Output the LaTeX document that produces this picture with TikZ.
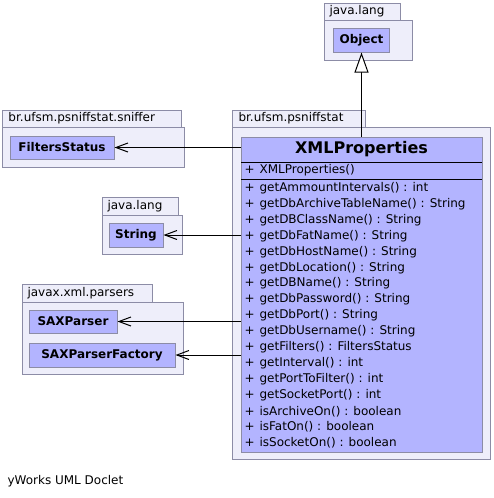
\documentclass[tikz,border=0pt]{standalone}
\usepackage{fontspec}
\setmainfont{DejaVu Sans}
\usetikzlibrary{arrows.meta,positioning}
\definecolor{pkgfill}{RGB}{238,238,250}
\definecolor{clsfill}{RGB}{179,180,255}
\definecolor{umlline}{RGB}{140,140,166}
\newcommand{\umlfont}{\fontsize{12}{14}\selectfont}

\begin{document}
\begin{tikzpicture}[x=1pt,y=-1pt,line width=1pt,
  pkg/.style={draw=umlline,fill=pkgfill},
  pkgname/.style={anchor=west,inner sep=0pt,font=\umlfont},
  cls/.style={draw=umlline,fill=clsfill,inner sep=0pt,font=\bfseries\umlfont},
  meth/.style={anchor=west,inner sep=0pt,font=\umlfont},
  dep/.style={-{Straight Barb[length=12pt,width=9pt]}},
  gen/.style={-{Triangle[open,length=20pt,width=14pt,fill=white]}}]
  \useasboundingbox (0,0) rectangle (493,498);
  % pacotes: aba + corpo
  \draw[pkg] (324,3) rectangle (400,20);
  \draw[pkg] (324,20) rectangle (412,60);
  \node[pkgname] (jl1) at (329,11.5) {java.lang};
  \draw[pkg] (2,110) rectangle (181,127);
  \draw[pkg] (2,127) rectangle (184,167);
  \node[pkgname] (sniff) at (8,118.5) {br.ufsm.psniffstat.sniffer};
  \draw[pkg] (232,110) rectangle (365,127);
  \draw[pkg] (232,127) rectangle (490,459);
  \node[pkgname] (psniff) at (238,118.5) {br.ufsm.psniffstat};
  \draw[pkg] (102,197) rectangle (178,215);
  \draw[pkg] (102,215) rectangle (182,254);
  \node[pkgname] (jl2) at (107,206) {java.lang};
  \draw[pkg] (22,284) rectangle (152,302);
  \draw[pkg] (22,302) rectangle (183,374);
  \node[pkgname] (parsers) at (27,293) {javax.xml.parsers};
  % classes
  \node[cls,minimum width=56,minimum height=24] (obj) at (361.5,40) {Object};
  \node[cls,minimum width=104,minimum height=23] (fs) at (62,147.5) {FiltersStatus};
  \node[cls,minimum width=54,minimum height=24] (str) at (136,235) {String};
  \node[cls,minimum width=88,minimum height=23] (sax) at (73,321.5) {SAXParser};
  \node[cls,minimum width=146,minimum height=24] (saxf) at (102,355) {SAXParserFactory};
  % XMLProperties
  \node[draw=umlline,fill=clsfill,minimum width=241,minimum height=315] (xml) at (361.5,294.5) {};
  \node[inner sep=0pt,font=\bfseries\fontsize{16}{19}\selectfont] (xmlname) at (361.5,149.5) {XMLProperties};
  \draw (241,162) -- (482,162);
  \draw (241,179) -- (482,179);
  \node[meth] (ctor) at (244,170.5) {+\kern5pt XMLProperties()};
  \foreach \m [count=\i] in {getAmmountIntervals() : int,getDbArchiveTableName() : String,
    getDBClassName() : String,getDbFatName() : String,getDbHostName() : String,
    getDbLocation() : String,getDBName() : String,getDbPassword() : String,
    getDbPort() : String,getDbUsername() : String,getFilters() : FiltersStatus,
    getInterval() : int,getPortToFilter() : int,getSocketPort() : int,
    isArchiveOn() : boolean,isFatOn() : boolean,isSocketOn() : boolean}
    \node[meth] (m\i) at (244,{172+15.95*\i}) {+\kern5pt \m};
  % relacoes
  \draw[gen] (xml.north) -- (obj.south);
  \draw[dep] (xml.west |- fs) -- (fs.east);
  \draw[dep] (xml.west |- str) -- (str.east);
  \draw[dep] (xml.west |- sax) -- (sax.east);
  \draw[dep] (xml.west |- saxf) -- (saxf.east);
  \node[anchor=west,inner sep=0pt,font=\umlfont] (doclet) at (7,481) {yWorks UML Doclet};
\end{tikzpicture}
\end{document}
